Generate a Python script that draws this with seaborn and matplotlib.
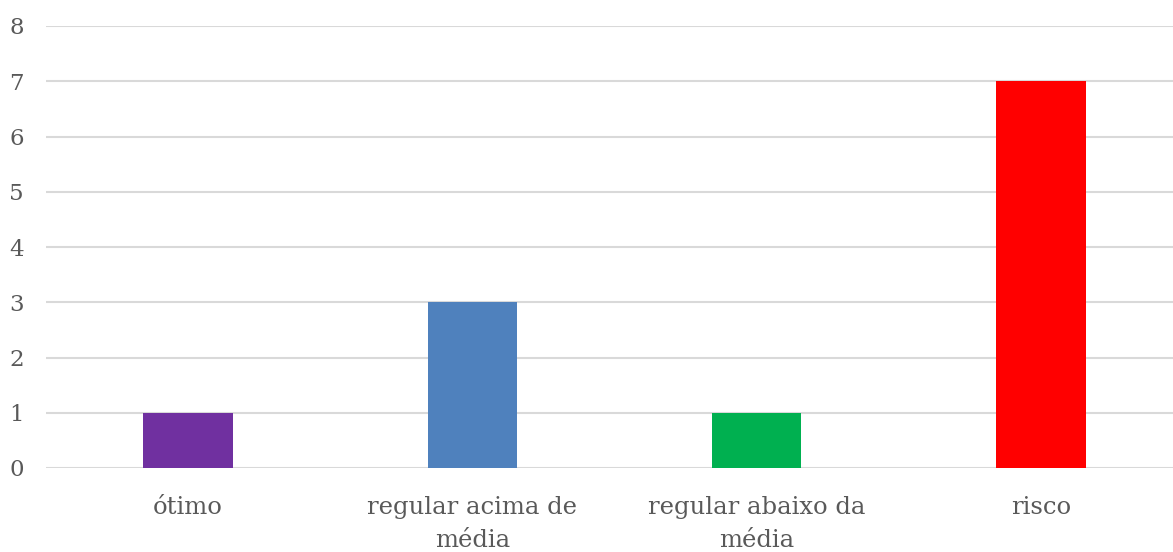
import matplotlib
matplotlib.use("Agg")
import matplotlib.pyplot as plt
import seaborn as sns
import pandas as pd

categories = ["ótimo", "regular acima de\nmédia", "regular abaixo da\nmédia", "risco"]
values = [1, 3, 1, 7]
colors = ["#7030A0", "#4F81BD", "#00B050", "#FF0000"]
y_ticks = [0, 1, 2, 3, 4, 5, 6, 7, 8]

sns.set_style("white")
plt.rcParams["font.family"] = ["DejaVu Serif"]

df = pd.DataFrame({"categoria": categories, "valor": values})

fig = plt.figure(figsize=(11.73, 5.52), dpi=100)
ax = fig.add_axes([46 / 1173, 1 - 468 / 552, 1137 / 1173, (468 - 26) / 552])

sns.barplot(data=df, x="categoria", y="valor", hue="categoria", palette=colors,
            legend=False, width=0.315, saturation=1, linewidth=0, edgecolor="none",
            ax=ax, zorder=3)

ax.set_xlim(-0.5, 3.5)
ax.set_ylim(0, 8)
ax.set_yticks(y_ticks)
ax.yaxis.grid(True, color="#d9d9d9", linewidth=1.5, zorder=0)
ax.set_axisbelow(True)
for s in ax.spines.values():
    s.set_visible(False)
ax.set_xlabel("")
ax.set_ylabel("")
ax.tick_params(axis="y", length=0, pad=16, labelsize=16.5, labelcolor="#595959")
ax.tick_params(axis="x", length=0, pad=20, labelsize=17.5, labelcolor="#595959")
for lbl in ax.get_xticklabels():
    lbl.set_linespacing(1.55)

fig.savefig("out.png", dpi=100, facecolor="white")
